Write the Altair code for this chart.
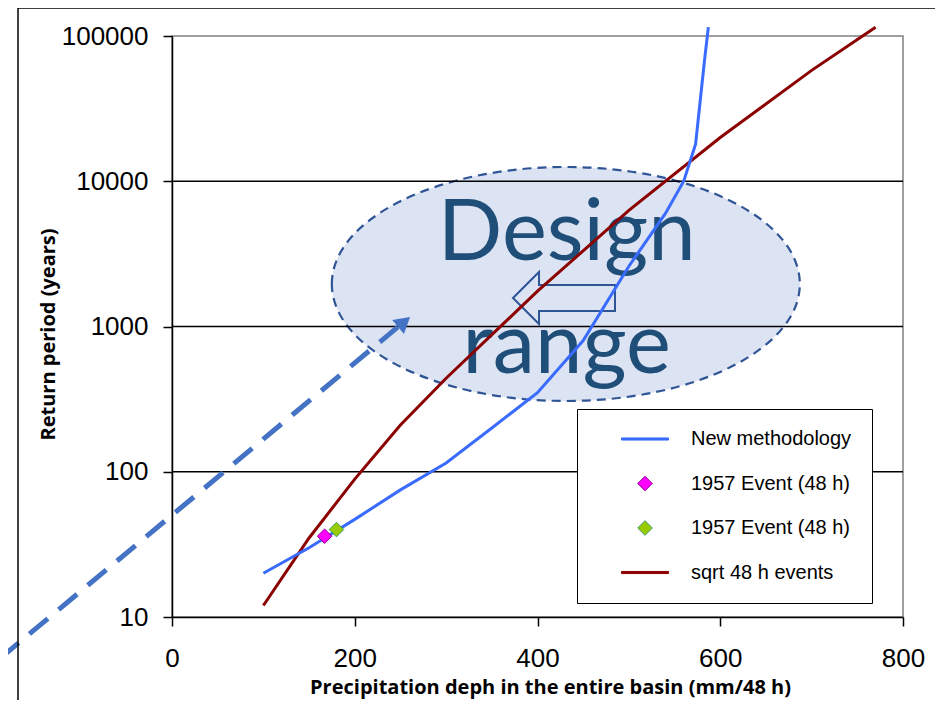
import altair as alt
import pandas as pd

# ---------------- data ----------------
blue_x = [100, 150, 200, 250, 300, 350, 400, 450, 500, 540, 560, 573, 583, 587]
blue_y = [20, 30, 47, 75, 115, 200, 350, 800, 2600, 6000, 10000, 18000, 70000, 115000]

red_x = [100, 150, 200, 250, 300, 400, 500, 600, 700, 770]
red_y = [12, 35, 89, 210, 440, 1750, 6300, 20000, 58000, 115000]

event_keys = ["1957 Event (48 h)", "1957 Event (48 h) #2"]
event_x = [167, 180]
event_y = [36, 40]

series_keys = ["New methodology", "1957 Event (48 h)", "1957 Event (48 h) #2", "sqrt 48 h events"]

x_ticks = [0, 200, 400, 600, 800]
y_ticks = [10, 100, 1000, 10000, 100000]
grid_values = [100, 1000, 10000]

# annotation anchors (data coordinates)
ellipse_x, ellipse_y = [431], [1962]
design_labels = ["Design", "range"]
design_x = [432, 432]
design_y = [2871, 479]
hint_x = [-188, 247]
hint_y = [5.2, 990]
hint_head_x, hint_head_y = [254], [1074]
left_arrow_x, left_arrow_y = [429], [1571]

# ---------------- styles ----------------
BLUE = "#3A6BFF"
RED = "#8B0000"
ELLIPSE_PATH = ("M -1 0 C -1 -0.2761 -0.5523 -0.5 0 -0.5 C 0.5523 -0.5 1 -0.2761 1 0 "
                "C 1 0.2761 0.5523 0.5 0 0.5 C -0.5523 0.5 -1 0.2761 -1 0 Z")
ARROW_PATH = "M -1 0 L -0.49 -0.51 L -0.49 -0.255 L 1 -0.255 L 1 0.255 L -0.49 0.255 L -0.49 0.51 Z"
DIAMOND_PATH = "M 0 -0.31 L 0.31 0 L 0 0.31 L -0.31 0 Z"
LINE_PATH = "M -1 -0.045 L 1 -0.045 L 1 0.045 L -1 0.045 Z"

xscale = alt.Scale(domain=[0, 800], nice=False, zero=False)
yscale = alt.Scale(type="log", domain=[10, 100000], nice=False)

xaxis = alt.Axis(values=x_ticks, title="Precipitation deph in the entire basin (mm/48 h)",
                 grid=False, domainColor="black", domainWidth=1.5, tickColor="black",
                 tickSize=9, tickWidth=1.5, labelFont="Liberation Sans", labelFontSize=26,
                 labelColor="black", labelPadding=19, labelFlush=False,
                 titleFont="Open Sans", titleFontSize=20, titleFontWeight="bold",
                 titleColor="black", titleX=378, titleY=70, titleBaseline="middle",
                 titleAlign="center")
yaxis = alt.Axis(values=y_ticks, format="d", title="Return period (years)",
                 grid=False, domainColor="black", domainWidth=1.5, tickColor="black",
                 tickSize=9, tickWidth=1.5, labelFont="Liberation Sans", labelFontSize=26,
                 labelColor="black", labelPadding=15, labelFlush=False,
                 titleFont="Open Sans", titleFontSize=20, titleFontWeight="bold",
                 titleColor="black", titleX=-124, titleY=298, titleBaseline="middle",
                 titleAlign="center", titleAngle=270)

X = alt.X("x:Q", scale=xscale, axis=xaxis)
Y = alt.Y("y:Q", scale=yscale, axis=yaxis)

# ---------------- layers ----------------
ellipse = alt.Chart(pd.DataFrame({"x": ellipse_x, "y": ellipse_y})).mark_point(
    shape=ELLIPSE_PATH, size=468 * 468, filled=True, fill="#DCE3F2", stroke="#2F5597",
    strokeWidth=2.2, strokeDash=[9, 6], opacity=1
).encode(x=X, y=Y)

grid = alt.Chart(pd.DataFrame({"y": grid_values})).mark_rule(
    color="black", strokeWidth=1.5
).encode(y=Y)

design = alt.Chart(pd.DataFrame({"x": design_x, "y": design_y, "t": design_labels})).mark_text(
    font="Lato", fontSize=85, color="#1F4E79", align="center", baseline="alphabetic"
).encode(x=X, y=Y, text="t:N")

left_arrow = alt.Chart(pd.DataFrame({"x": left_arrow_x, "y": left_arrow_y})).mark_point(
    shape=ARROW_PATH, size=102 * 102, filled=False, stroke="#2F5597", strokeWidth=2, opacity=1
).encode(x=X, y=Y)

hint = alt.Chart(pd.DataFrame({"x": hint_x, "y": hint_y})).mark_line(
    color="#4472C4", strokeWidth=5, strokeDash=[24, 14]
).encode(x=X, y=Y)

hint_head = alt.Chart(pd.DataFrame({"x": hint_head_x, "y": hint_head_y})).mark_point(
    shape="triangle-up", angle=50, size=330, filled=True, color="#4472C4", opacity=1
).encode(x=X, y=Y)

red = alt.Chart(pd.DataFrame({"x": red_x, "y": red_y})).mark_line(
    color=RED, strokeWidth=3
).encode(x=X, y=Y)

blue = alt.Chart(pd.DataFrame({"x": blue_x, "y": blue_y})).mark_line(
    color=BLUE, strokeWidth=3
).encode(x=X, y=Y)

legend = alt.Legend(title=None, orient="none", legendX=405, legendY=373,
                    labelExpr="replace(datum.label, ' #2', '')",
                    strokeColor="black", fillColor="white", padding=20,
                    clipHeight=20, rowPadding=24.5, symbolOffset=24, labelOffset=22,
                    labelFont="Liberation Sans", labelFontSize=20, labelColor="black",
                    labelLimit=400, symbolSize=2209, symbolStrokeWidth=1)

points = alt.Chart(pd.DataFrame({"x": event_x, "y": event_y, "series": event_keys})).mark_point(
    filled=True, size=2209, strokeWidth=1, opacity=1
).encode(
    x=X, y=Y,
    shape=alt.Shape("series:N", scale=alt.Scale(domain=series_keys,
                    range=[LINE_PATH, DIAMOND_PATH, DIAMOND_PATH, LINE_PATH]), legend=legend),
    fill=alt.Fill("series:N", scale=alt.Scale(domain=series_keys,
                  range=[BLUE, "#FF00FF", "#99CC00", RED]), legend=legend),
    stroke=alt.Stroke("series:N", scale=alt.Scale(domain=series_keys,
                      range=[BLUE, "#990099", "#339966", RED]), legend=legend),
)

frame_df = pd.DataFrame({"a": [0]})
frame_left = alt.Chart(frame_df).mark_rule(color="black", strokeWidth=1.5).encode(
    x=alt.value(-154), y=alt.value(-28), y2=alt.value(700))
frame_top = alt.Chart(frame_df).mark_rule(color="black", strokeWidth=1.5).encode(
    x=alt.value(-154), x2=alt.value(800), y=alt.value(-28))

chart = alt.layer(
    ellipse, grid, design, left_arrow, hint, hint_head, red, blue, points, frame_left, frame_top
).properties(
    width=731, height=581,
    padding={"left": 164, "top": 28, "right": 32, "bottom": 83},
    autosize=alt.AutoSizeParams(type="none"),
    background="white",
).configure_view(stroke="#808080", strokeWidth=1.5)

chart.save("out.html", embed_options={"renderer": "svg", "actions": False})
